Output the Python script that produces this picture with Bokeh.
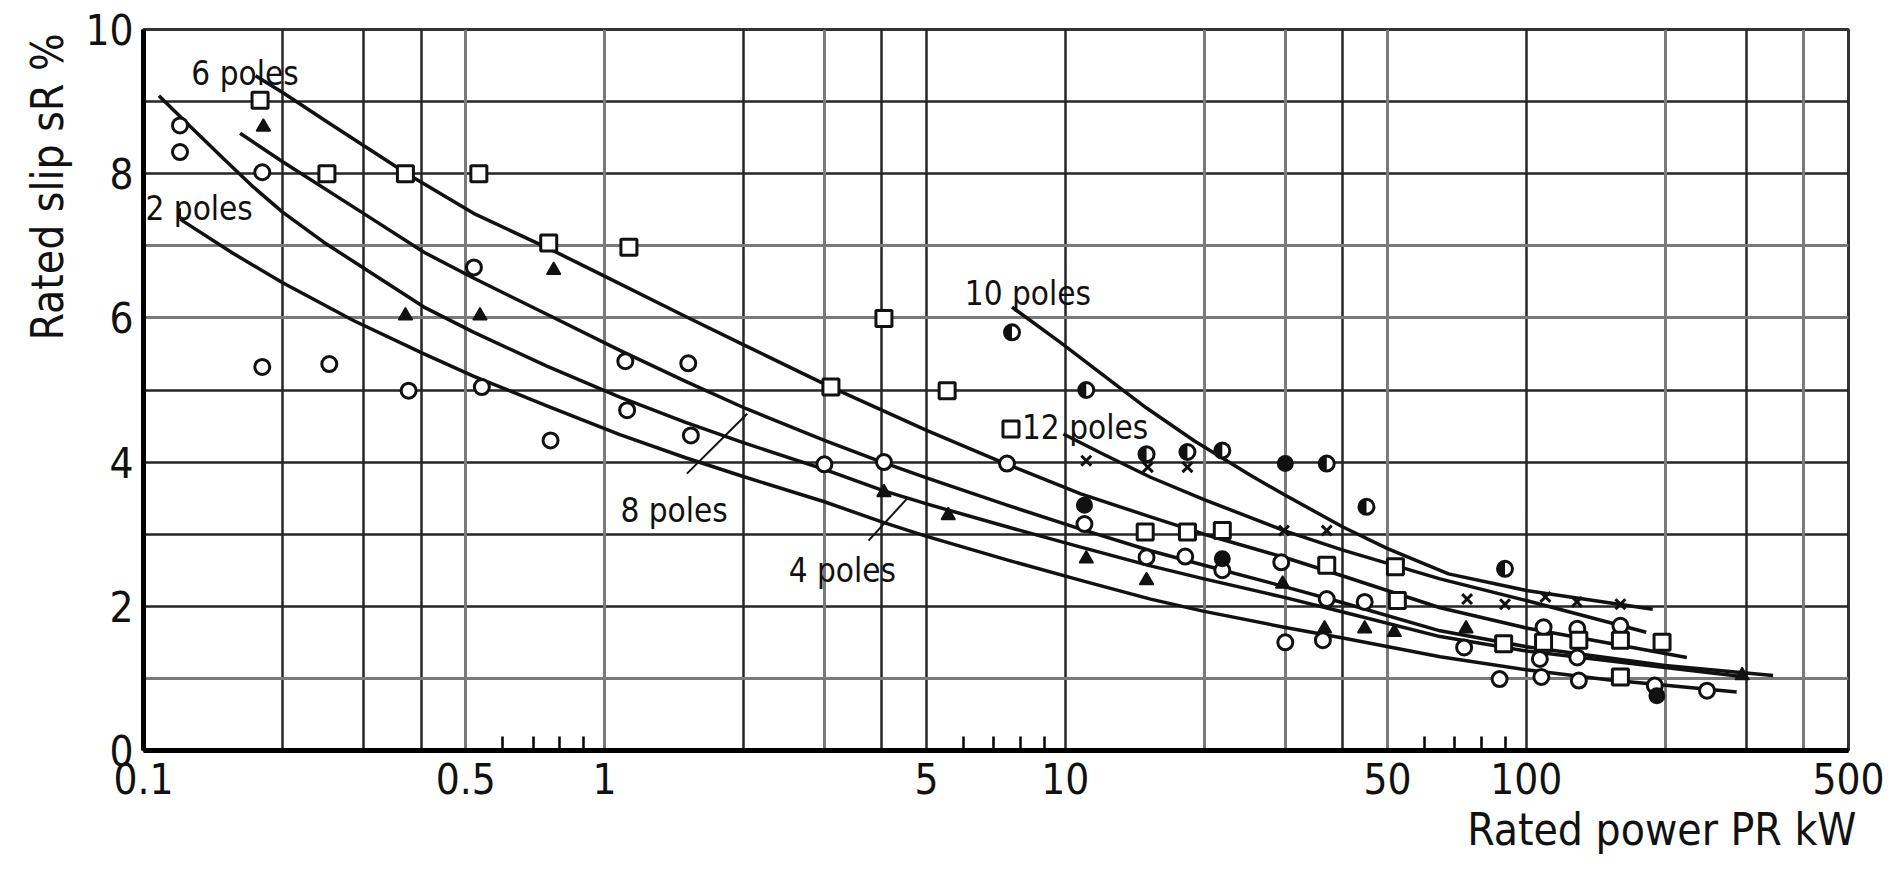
import math
from bokeh.plotting import figure
from bokeh.models import FixedTicker, Grid, Label, Title
from bokeh.embed import file_html
from bokeh.resources import INLINE

# ---------------- data ----------------
x_ticks = [0.1, 0.5, 1, 5, 10, 50, 100, 500]
x_tick_labels = ["0.1", "0.5", "1", "5", "10", "50", "100", "500"]
x_minor = [0.6, 0.7, 0.8, 0.9, 6, 7, 8, 9, 60, 70, 80, 90]
x_grid_dark = [0.2, 0.3, 0.4, 2, 4, 5, 10, 40, 100, 300]
x_grid_gray = [0.5, 1, 3, 20, 30, 50, 200, 400]
y_ticks = [0, 2, 4, 6, 8, 10]
y_grid_dark = [2, 3, 4, 5, 8, 9]
y_grid_gray = [1, 6, 7]

curve_6p_x = [0.175, 0.2, 0.25, 0.373, 0.52, 0.764, 1.0, 1.5, 2.0, 3.1, 5.0, 7.47, 10.8, 15.3, 20, 29.8, 40, 65, 100, 223]
curve_6p_y = [9.36, 9.13, 8.72, 8.0, 7.45, 6.95, 6.58, 6.02, 5.63, 5.04, 4.44, 3.97, 3.56, 3.24, 3.0, 2.68, 2.42, 1.98, 1.70, 1.29]

curve_8p_x = [0.162, 0.2, 0.3, 0.406, 0.521, 0.75, 1.08, 1.5, 2.03, 3.0, 4.0, 5.0, 7.5, 10.8, 15.3, 20, 30, 40, 65, 100, 200, 343]
curve_8p_y = [8.56, 8.17, 7.45, 6.91, 6.55, 6.05, 5.55, 5.12, 4.74, 4.30, 4.0, 3.78, 3.40, 3.07, 2.77, 2.57, 2.27, 2.05, 1.66, 1.44, 1.18, 1.04]

curve_4p_x = [0.108, 0.1265, 0.149, 0.1735, 0.2, 0.246, 0.3055, 0.406, 0.521, 0.75, 1.08, 1.5, 2.0, 3.0, 4.04, 5.0, 7.5, 10.8, 15.3, 20, 30, 40, 65, 100, 200, 300]
curve_4p_y = [9.08, 8.65, 8.21, 7.81, 7.47, 7.05, 6.66, 6.15, 5.80, 5.33, 4.90, 4.55, 4.27, 3.90, 3.60, 3.42, 3.10, 2.82, 2.56, 2.38, 2.12, 1.92, 1.58, 1.38, 1.15, 1.02]

curve_2p_x = [0.120, 0.156, 0.2, 0.286, 0.406, 0.521, 0.75, 1.08, 1.5, 2.0, 3.0, 4.04, 5.0, 7.5, 10.8, 15.3, 20, 29.8, 40, 65, 100, 150, 286]
curve_2p_y = [7.37, 6.90, 6.49, 5.96, 5.50, 5.19, 4.78, 4.38, 4.06, 3.80, 3.45, 3.16, 2.97, 2.64, 2.36, 2.10, 1.93, 1.71, 1.56, 1.30, 1.12, 0.98, 0.81]

curve_10p_x = [7.66, 9.75, 12, 15, 19.1, 25, 29.8, 40, 50, 67.8, 100, 188]
curve_10p_y = [6.15, 5.66, 5.22, 4.75, 4.29, 3.83, 3.55, 3.10, 2.80, 2.45, 2.22, 1.96]

curve_12p_x = [9.9, 12, 15.3, 20, 29.8, 40, 65, 100, 182]
curve_12p_y = [4.39, 4.12, 3.79, 3.48, 3.05, 2.78, 2.38, 2.08, 1.64]

open_circle_x = [0.120, 0.120, 0.181, 0.521, 0.181, 0.253, 0.376, 0.542, 0.764, 1.11, 1.12, 1.52, 1.54,
                 3.0, 4.04, 7.47, 11.0, 15.0, 18.2, 21.9, 29.4, 30.0, 36.2, 36.9, 44.6, 73.3,
                 109, 129, 160, 107, 129, 87.5, 107.8, 130, 190, 246.6]
open_circle_y = [8.67, 8.30, 8.02, 6.70, 5.32, 5.36, 4.99, 5.04, 4.30, 5.40, 4.72, 5.37, 4.37,
                 3.97, 4.00, 3.98, 3.14, 2.68, 2.69, 2.50, 2.61, 1.50, 1.53, 2.10, 2.06, 1.43,
                 1.71, 1.69, 1.73, 1.27, 1.29, 0.99, 1.02, 0.97, 0.90, 0.83]

square_x = [0.179, 0.250, 0.370, 0.534, 0.757, 1.13, 3.1, 4.04, 5.54, 7.62, 14.9, 18.4, 21.9,
            36.9, 52, 52.5, 89.3, 109, 130, 160, 197, 160]
square_y = [9.02, 8.0, 8.0, 8.0, 7.04, 6.98, 5.04, 5.99, 4.99, 4.46, 3.03, 3.03, 3.05,
            2.57, 2.55, 2.08, 1.48, 1.50, 1.53, 1.53, 1.50, 1.02]

triangle_x = [0.182, 0.370, 0.537, 0.776, 4.04, 5.57, 11.1, 15.0, 29.6, 36.5, 44.6, 51.7, 74, 294]
triangle_y = [8.65, 6.03, 6.03, 6.66, 3.58, 3.26, 2.66, 2.36, 2.31, 1.69, 1.69, 1.64, 1.69, 1.04]

cross_x = [11.1, 15.1, 18.4, 29.8, 36.9, 74.4, 89.9, 110, 128.8, 160]
cross_y = [4.02, 3.93, 3.93, 3.05, 3.05, 2.10, 2.03, 2.13, 2.06, 2.03]

half_x = [7.66, 11.1, 15.0, 18.4, 21.9, 36.9, 45.0, 89.9]
half_y = [5.80, 5.00, 4.11, 4.14, 4.16, 3.98, 3.38, 2.52]

filled_x = [11.0, 21.9, 30.0, 192]
filled_y = [3.40, 2.66, 3.98, 0.76]

# labels and their anchor positions (data coordinates)
curve_labels = ["6 poles", "2 poles", "8 poles", "4 poles", "10 poles", "12 poles"]
label_x = [0.127, 0.101, 1.083, 2.51, 6.05, 8.05]
label_y = [9.39, 7.52, 3.33, 2.50, 6.34, 4.48]

leader_x0 = [0.120, 1.51, 3.74]
leader_y0 = [7.37, 3.84, 2.91]
leader_x1 = [0.120, 2.04, 4.56]
leader_y1 = [7.52, 4.67, 3.51]

x_title = "Rated power PR kW"
y_title = "Rated slip sR %"

INK = "#111111"
FONT = "DejaVu Sans Condensed"

p = figure(width=1892, height=873, x_axis_type="log", x_range=(0.1, 500), y_range=(0, 10),
           output_backend="svg", toolbar_location=None,
           min_border_left=143, min_border_right=44, min_border_top=29, min_border_bottom=123)
p.background_fill_color = "white"
p.border_fill_color = "white"
p.outline_line_color = "#333333"
p.outline_line_width = 3

# axes
p.xaxis.ticker = FixedTicker(ticks=x_ticks, minor_ticks=x_minor)
p.xaxis.major_label_overrides = {t: l for t, l in zip(x_ticks, x_tick_labels)}
p.yaxis.ticker = FixedTicker(ticks=y_ticks, minor_ticks=[])
p.yaxis.major_label_overrides = {t: str(t) for t in y_ticks}
for ax in (p.xaxis[0], p.yaxis[0]):
    ax.axis_line_color = "black"
    ax.axis_line_width = 5
    ax.major_tick_line_color = None
    ax.major_tick_in = 0
    ax.major_tick_out = 0
    ax.major_label_text_font = FONT
    ax.major_label_text_font_size = "42px"
    ax.major_label_text_color = INK
p.xaxis.minor_tick_line_color = "black"
p.xaxis.minor_tick_line_width = 2.5
p.xaxis.minor_tick_in = 14
p.xaxis.minor_tick_out = 0
p.xaxis.major_label_standoff = 12
p.yaxis.minor_tick_line_color = None
p.yaxis.major_label_standoff = 10

# axis titles (side panels, outside the frame)
p.add_layout(Title(text=x_title, align="right", offset=-8, standoff=11, text_font=FONT,
                   text_font_size="44px", text_font_style="normal", text_color=INK), "below")
p.add_layout(Title(text=y_title, align="right", offset=4, standoff=20, text_font=FONT,
                   text_font_size="44px", text_font_style="normal", text_color=INK), "left")

# grids
p.xgrid.ticker = FixedTicker(ticks=x_grid_dark)
p.xgrid.grid_line_color = "#262626"
p.xgrid.grid_line_width = 2.5
p.ygrid.ticker = FixedTicker(ticks=y_grid_dark)
p.ygrid.grid_line_color = "#262626"
p.ygrid.grid_line_width = 2.5
p.add_layout(Grid(dimension=0, ticker=FixedTicker(ticks=x_grid_gray), grid_line_color="#7a7a7a", grid_line_width=3))
p.add_layout(Grid(dimension=1, ticker=FixedTicker(ticks=y_grid_gray), grid_line_color="#7a7a7a", grid_line_width=3))

# curves
for cx, cy in [(curve_6p_x, curve_6p_y), (curve_8p_x, curve_8p_y), (curve_4p_x, curve_4p_y),
               (curve_2p_x, curve_2p_y), (curve_10p_x, curve_10p_y), (curve_12p_x, curve_12p_y)]:
    p.line(cx, cy, line_color=INK, line_width=3.5, line_join="round")

p.segment(x0=leader_x0, y0=leader_y0, x1=leader_x1, y1=leader_y1, line_color=INK, line_width=2)

# markers
p.scatter(open_circle_x, open_circle_y, marker="circle", size=15, fill_color="white",
          line_color=INK, line_width=3)
p.scatter(square_x, square_y, marker="square", size=16, fill_color="white",
          line_color=INK, line_width=3)
p.scatter(triangle_x, triangle_y, marker="triangle", size=14, fill_color=INK,
          line_color=INK, line_width=1.5)
p.scatter(cross_x, cross_y, marker="x", size=14, line_color=INK, line_width=3)
p.scatter(half_x, half_y, marker="circle", size=15, fill_color="white", line_color=INK, line_width=3)
p.wedge(half_x, half_y, radius=7, radius_units="screen", start_angle=math.pi / 2,
        end_angle=3 * math.pi / 2, fill_color=INK, line_color=None)
p.scatter(filled_x, filled_y, marker="circle", size=15, fill_color=INK, line_color=INK, line_width=2)

# curve labels
for t, lx, ly in zip(curve_labels, label_x, label_y):
    p.add_layout(Label(x=lx, y=ly, text=t, text_font=FONT, text_font_size="33px",
                       text_color=INK, text_align="left", text_baseline="alphabetic"))

open("out.html", "w").write(file_html(p, INLINE))
